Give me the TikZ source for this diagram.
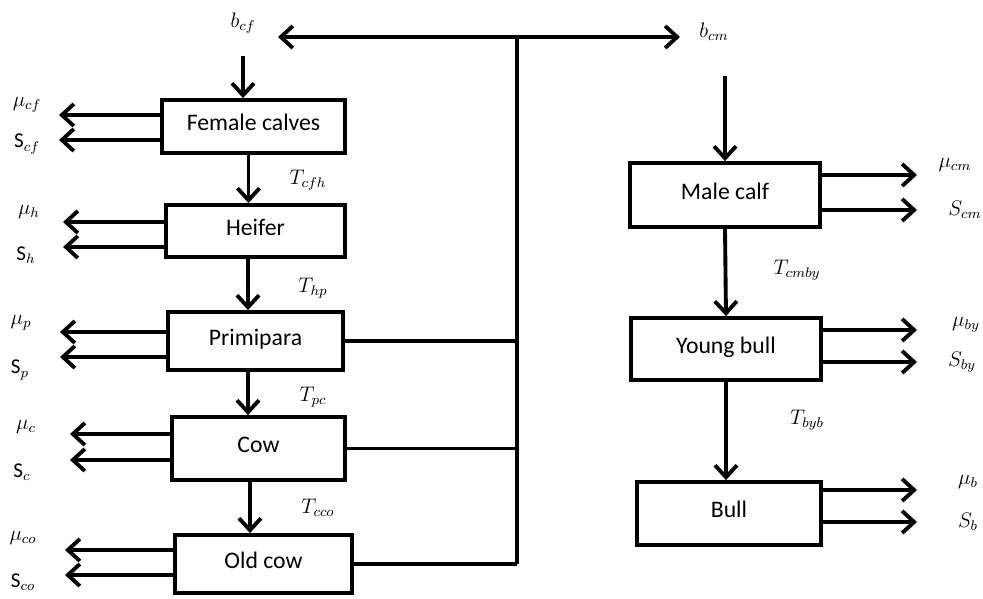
\documentclass[tikz,border=0pt]{standalone}
\usepackage{fontspec}
\setmainfont{Carlito}
\usetikzlibrary{arrows.meta,positioning}

\begin{document}
\begin{tikzpicture}[x=0.02cm,y=-0.02cm,
  box/.style={draw,line width=2.2pt,font=\fontsize{13.5}{15}\selectfont,text height=9pt,text depth=4pt},
  lab/.style={font=\large,inner sep=1pt},
  flow/.style={line width=2.2pt},
  >={Straight Barb[length=2.4mm,width=4.4mm]}]
\useasboundingbox (0,0) rectangle (983,598);
% female line
\node[box,minimum width=3.66cm,minimum height=1.06cm] (fc) at (253.5,126.5) {Female calves};
\node[box,minimum width=3.58cm,minimum height=1.04cm] (hf) at (255.5,231) {Heifer};
\node[box,minimum width=3.50cm,minimum height=1.16cm] (pp) at (255.5,341) {Primipara};
\node[box,minimum width=3.46cm,minimum height=1.26cm] (cw) at (258.5,448.5) {Cow};
\node[box,minimum width=3.54cm,minimum height=1.16cm] (oc) at (263.5,564) {Old cow};
% male line
\node[box,minimum width=3.80cm,minimum height=1.28cm] (mc) at (725,195) {Male calf};
\node[box,minimum width=3.80cm,minimum height=1.24cm] (yb) at (726,349) {Young bull};
\node[box,minimum width=3.68cm,minimum height=1.26cm] (bl) at (729,513.5) {Bull};

\node[lab] (bcf) at (243,23) {$b_{cf}$};
\node[lab] (bcm) at (714,32) {$b_{cm}$};
\node[lab] (tcfh) at (308,180) {$T_{cfh}$};
\node[lab] (thp) at (313,288) {$T_{hp}$};
\node[lab] (tpc) at (313,397) {$T_{pc}$};
\node[lab] (tcco) at (318,508) {$T_{cco}$};
\node[lab] (tcmby) at (797,270) {$T_{cmby}$};
\node[lab] (tbyb) at (807,420) {$T_{byb}$};

\node[lab] (mcf) at (27,105) {$\mu_{cf}$};
\node[lab] (scf) at (27,144) {S$_{cf}$};
\node[lab] (mh) at (29,212) {$\mu_{h}$};
\node[lab] (sh) at (26,255) {S$_{h}$};
\node[lab] (mp) at (21,323) {$\mu_{p}$};
\node[lab] (sp) at (20,370) {S$_{p}$};
\node[lab] (mcw) at (26,427) {$\mu_{c}$};
\node[lab] (scw) at (22,472) {S$_{c}$};
\node[lab] (mco) at (23,538) {$\mu_{co}$};
\node[lab] (sco) at (23,582) {S$_{co}$};
\node[lab] (mcm) at (955,165) {$\mu_{cm}$};
\node[lab] (scm) at (965,210) {$S_{cm}$};
\node[lab] (mby) at (966,325) {$\mu_{by}$};
\node[lab] (sby) at (962,362) {$S_{by}$};
\node[lab] (mb) at (968,482) {$\mu_{b}$};
\node[lab] (sb) at (968,522) {$S_{b}$};

% arrow tips of the outputs
\coordinate (fc1) at (59,115);  \coordinate (fc2) at (59,140);
\coordinate (hf1) at (63,222);  \coordinate (hf2) at (63,247);
\coordinate (pp1) at (60,332);  \coordinate (pp2) at (60,357);
\coordinate (cw1) at (70,434);  \coordinate (cw2) at (70,460);
\coordinate (oc1) at (65,550);  \coordinate (oc2) at (65,575);
\coordinate (mc1) at (917,175); \coordinate (mc2) at (917,210);
\coordinate (yb1) at (917,330); \coordinate (yb2) at (917,362);
\coordinate (bl1) at (917,490); \coordinate (bl2) at (917,522);
% birth bus
\coordinate (busL) at (278,37);
\coordinate (busR) at (680,37);
\coordinate (bus) at (517,37);

\draw[flow,<->] (busL) -- (busR);
\draw[flow,line join=miter] (pp.east) -| (bus);
\draw[flow] (cw.east) -- (cw.east -| bus);
\draw[flow] (oc.east) -- (oc.east -| bus);
\draw[flow] (pp.east -| bus) -- (oc.east -| bus);

\draw[flow,->,shorten <=0.42cm] (bcf.south) -- (bcf.south |- fc.north);
\draw[flow,->] ([xshift=-0.1cm]fc.south) -- ([xshift=-0.1cm]fc.south |- hf.north);
\draw[flow,->] ([xshift=-0.15cm]hf.south) -- ([xshift=-0.15cm]hf.south |- pp.north);
\draw[flow,->] ([xshift=-0.15cm]pp.south) -- ([xshift=-0.15cm]pp.south |- cw.north);
\draw[flow,->] ([xshift=-0.17cm]cw.south) -- ([xshift=-0.17cm]cw.south |- oc.north);
\draw[flow,->,shorten <=0.66cm] (bcm.south -| mc.north) -- (mc.north);
\draw[flow,->] (mc.south) -- (yb.north);
\draw[flow,->] (yb.south) -- (yb.south |- bl.north);

\draw[flow,->] (fc.west |- fc1) -- (fc1);
\draw[flow,->] (fc.west |- fc2) -- (fc2);
\draw[flow,->] (hf.west |- hf1) -- (hf1);
\draw[flow,->] (hf.west |- hf2) -- (hf2);
\draw[flow,->] (pp.west |- pp1) -- (pp1);
\draw[flow,->] (pp.west |- pp2) -- (pp2);
\draw[flow,->] (cw.west |- cw1) -- (cw1);
\draw[flow,->] (cw.west |- cw2) -- (cw2);
\draw[flow,->] (oc.west |- oc1) -- (oc1);
\draw[flow,->] (oc.west |- oc2) -- (oc2);
\draw[flow,->] (mc.east |- mc1) -- (mc1);
\draw[flow,->] (mc.east |- mc2) -- (mc2);
\draw[flow,->] (yb.east |- yb1) -- (yb1);
\draw[flow,->] (yb.east |- yb2) -- (yb2);
\draw[flow,->] (bl.east |- bl1) -- (bl1);
\draw[flow,->] (bl.east |- bl2) -- (bl2);
\end{tikzpicture}
\end{document}
